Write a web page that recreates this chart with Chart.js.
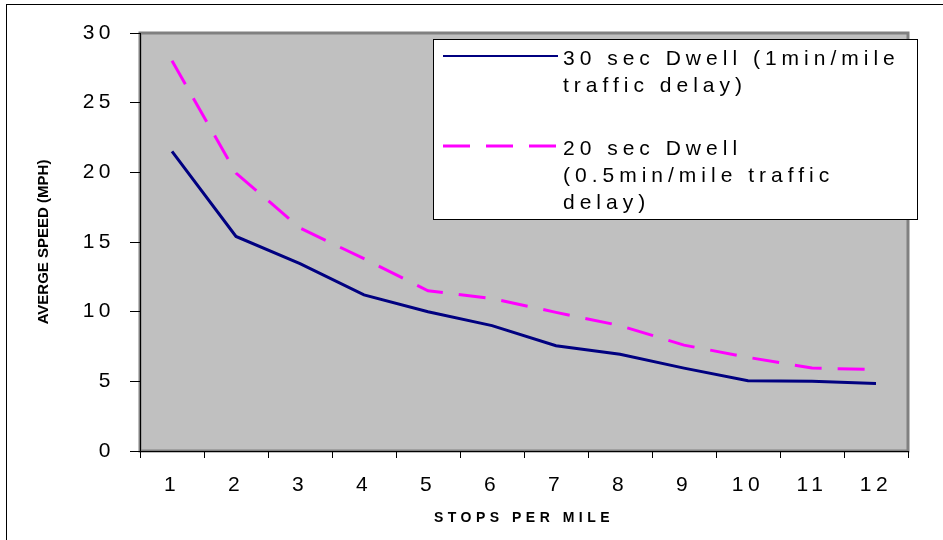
<!DOCTYPE html>
<html>
<head>
<meta charset="utf-8">
<script src="https://cdn.jsdelivr.net/npm/chart.js@4.4.0/dist/chart.umd.min.js"></script>
<style>
  html, body { margin: 0; padding: 0; background: #fff; }
  #wrap { width: 943px; height: 540px; }
</style>
</head>
<body>
<div id="wrap"><canvas id="speedChart"></canvas></div>
<script>
  // Stops per mile (x categories)
  const stops = ["1", "2", "3", "4", "5", "6", "7", "8", "9", "10", "11", "12"];
  // Average speed (mph)
  const dwell30 = [21.5, 15.4, 13.45, 11.2, 10.0, 9.0, 7.55, 6.95, 5.95, 5.05, 5.0, 4.85];
  const dwell20 = [28.0, 19.95, 16.0, 13.8, 11.5, 10.95, 9.95, 9.0, 7.6, 6.72, 5.95, 5.85];
  // Legend text, one entry per line
  const dwell30Label = ["30 sec Dwell (1min/mile", "traffic delay)"];
  const dwell20Label = ["20 sec Dwell", "(0.5min/mile traffic", "delay)"];
  const speedTicks = [0, 5, 10, 15, 20, 25, 30];

  const FONT = "'Liberation Sans', Arial, sans-serif";
  Chart.defaults.font.family = FONT;
  Chart.defaults.color = "#000";

  // plot background, frame, y title and the boxed legend
  const framePlugin = {
    id: "framePlugin",
    beforeDraw(chart) {
      const { ctx, chartArea: a } = chart;
      ctx.save();
      ctx.strokeStyle = "#000";
      ctx.lineWidth = 1;
      ctx.strokeRect(6.5, 4.5, 1200, 800); // only left + top edges show
      ctx.fillStyle = "#c0c0c0";
      ctx.fillRect(a.left, a.top, a.right - a.left, a.bottom - a.top);
      ctx.strokeStyle = "#808080";
      ctx.lineWidth = 3;
      ctx.strokeRect(a.left, a.top, a.right - a.left, a.bottom - a.top);
      ctx.restore();
      ctx.letterSpacing = "4.5px"; // wide Excel-style text for ticks
    },
    afterDraw(chart) {
      const { ctx, chartArea: a } = chart;

      // y axis title (not spaced out)
      ctx.save();
      ctx.letterSpacing = "0px";
      ctx.translate(44, (a.top + a.bottom) / 2);
      ctx.rotate(-Math.PI / 2);
      ctx.font = "bold 15px " + FONT;
      ctx.fillStyle = "#000";
      ctx.textAlign = "center";
      ctx.textBaseline = "middle";
      ctx.fillText("AVERGE SPEED (MPH)", 0, 0);
      ctx.restore();

      // legend box
      const box = { x: 433, y: 39, w: 484, h: 180 };
      ctx.save();
      ctx.fillStyle = "#fff";
      ctx.fillRect(box.x, box.y, box.w, box.h);
      ctx.strokeStyle = "#000";
      ctx.lineWidth = 1;
      ctx.strokeRect(box.x + 0.5, box.y + 0.5, box.w, box.h);

      const firstBaselines = [65, 155];
      const lineStep = 27;
      ctx.font = "21px " + FONT;
      ctx.fillStyle = "#000";
      ctx.textBaseline = "alphabetic";
      ctx.textAlign = "left";
      ctx.letterSpacing = "5px";
      chart.data.datasets.forEach((ds, i) => {
        const base = firstBaselines[i];
        ctx.save();
        ctx.strokeStyle = ds.borderColor;
        ctx.lineWidth = i === 0 ? 2 : 3;
        ctx.setLineDash(ds.borderDash || []);
        ctx.beginPath();
        ctx.moveTo(443, base - 9);
        ctx.lineTo(558, base - 9);
        ctx.stroke();
        ctx.restore();
        ds.legendLines.forEach((line, k) => {
          ctx.fillText(line, 563, base + k * lineStep);
        });
      });
      ctx.restore();
    },
  };

  const ctx = document.getElementById("speedChart").getContext("2d");
  const speedChart = new Chart(ctx, {
    type: "line",
    data: {
      labels: stops,
      datasets: [
        {
          label: dwell30Label.join(" "),
          legendLines: dwell30Label,
          data: dwell30,
          borderColor: "#000080",
          borderWidth: 3,
          pointRadius: 0,
          tension: 0,
        },
        {
          label: dwell20Label.join(" "),
          legendLines: dwell20Label,
          data: dwell20,
          borderColor: "#ff00ff",
          borderWidth: 3,
          borderDash: [27, 16],
          pointRadius: 0,
          tension: 0,
        },
      ],
    },
    options: {
      responsive: true,
      maintainAspectRatio: false,
      animation: false,
      layout: { padding: { top: 33, right: 35, bottom: 0, left: 0 } },
      plugins: {
        legend: { display: false },
        tooltip: { enabled: false },
      },
      scales: {
        x: {
          offset: true,
          grid: { offset: true, drawOnChartArea: false, tickLength: 7, color: "#000" },
          border: { color: "#000", width: 1 },
          ticks: { font: { size: 21 }, padding: 15, maxRotation: 0 },
          title: {
            display: true,
            text: "STOPS PER MILE",
            font: { size: 14, weight: "bold" },
            padding: { top: 0, bottom: 13 },
          },
          afterFit: (scale) => { scale.height = 89; },
        },
        y: {
          min: 0,
          max: 30,
          afterBuildTicks: (scale) => {
            scale.ticks = speedTicks.map((v) => ({ value: v }));
          },
          grid: { drawOnChartArea: false, tickLength: 10, color: "#000" },
          border: { color: "#000", width: 1 },
          ticks: { font: { size: 21 }, padding: 15 },
          afterFit: (scale) => { scale.width = 140; },
        },
      },
    },
    plugins: [framePlugin],
  });
</script>
</body>
</html>
